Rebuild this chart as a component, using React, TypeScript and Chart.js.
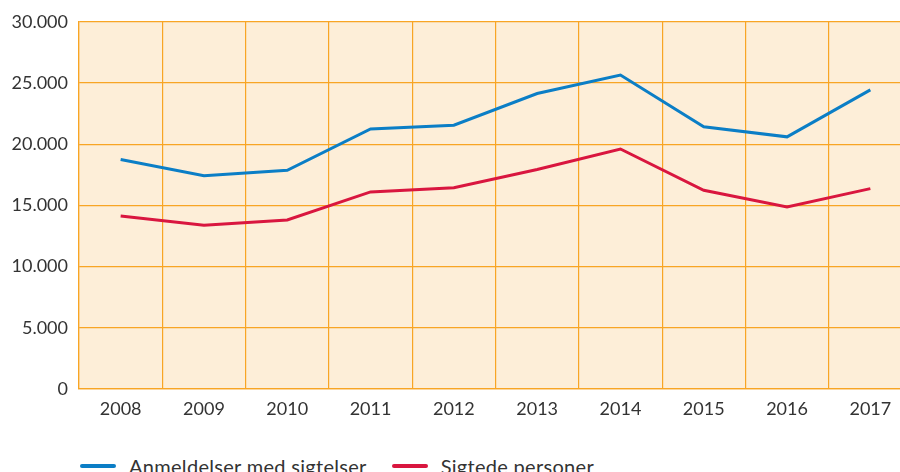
import React, { useEffect, useRef } from "react";
import { Chart, registerables } from "chart.js";

Chart.register(...registerables);

const years = ["2008", "2009", "2010", "2011", "2012", "2013", "2014", "2015", "2016", "2017"];
const anmeldelser = [18750, 17430, 17870, 21250, 21550, 24140, 25650, 21420, 20600, 24440];
const sigtede = [14140, 13380, 13810, 16100, 16450, 17930, 19610, 16230, 14880, 16370];
const seriesNames = ["Anmeldelser med sigtelser", "Sigtede personer"];
const seriesColors = ["#0b7ec6", "#d9163f"];

const FONT = "Lato, 'Open Sans', sans-serif";

const fmt = (v: number) => String(v).replace(/\B(?=(\d{3})+(?!\d))/g, ".");

const bgPlugin = {
  id: "plotBg",
  beforeDraw(chart: any) {
    const { ctx, chartArea } = chart;
    if (!chartArea) return;
    ctx.save();
    ctx.fillStyle = "#fdeed8";
    ctx.fillRect(chartArea.left, chartArea.top, chartArea.right - chartArea.left, chartArea.bottom - chartArea.top);
    ctx.restore();
  },
};

export default function App() {
  const ref = useRef<HTMLCanvasElement | null>(null);
  useEffect(() => {
    if (!ref.current) return;
    const chart = new Chart(ref.current, {
      type: "line",
      data: {
        labels: years,
        datasets: [
          {
            label: seriesNames[0],
            data: anmeldelser,
            borderColor: seriesColors[0],
            backgroundColor: seriesColors[0],
            borderWidth: 3,
            pointRadius: 0,
            tension: 0,
          },
          {
            label: seriesNames[1],
            data: sigtede,
            borderColor: seriesColors[1],
            backgroundColor: seriesColors[1],
            borderWidth: 3,
            pointRadius: 0,
            tension: 0,
          },
        ],
      },
      options: {
        animation: false,
        responsive: false,
        maintainAspectRatio: false,
        layout: { padding: { top: 16, right: 0, left: 0, bottom: 0 } },
        plugins: { legend: { display: false }, tooltip: { enabled: false } },
        scales: {
          x: {
            offset: true,
            grid: { color: "#f8a524", lineWidth: 1.2, drawTicks: false, offset: true },
            border: { color: "#f8a524", width: 1.2 },
            ticks: { color: "#333", font: { family: FONT, size: 18 }, padding: 9, maxRotation: 0 },
            afterFit: (s: any) => {
              s.height = 41;
            },
          },
          y: {
            min: 0,
            max: 30000,
            grid: { color: "#f8a524", lineWidth: 1.2, drawTicks: false },
            border: { color: "#f8a524", width: 1.2 },
            ticks: {
              stepSize: 5000,
              color: "#333",
              font: { family: FONT, size: 18 },
              padding: 11,
              callback: (v: any) => fmt(Number(v)),
            },
            afterFit: (s: any) => {
              s.width = 79;
            },
          },
        },
      },
      plugins: [bgPlugin],
    });
    return () => chart.destroy();
  }, []);

  const legendItem = (i: number) => (
    <div style={{ display: "flex", alignItems: "center", marginRight: 25 }}>
      <div style={{ width: 36, height: 4, borderRadius: 2, background: seriesColors[i], marginRight: 13 }} />
      <span>{seriesNames[i]}</span>
    </div>
  );

  return (
    <div style={{ position: "fixed", left: 0, top: 0, width: 900, height: 472, overflow: "hidden", background: "#fff" }}>
      <canvas ref={ref} width={912} height={430} style={{ position: "absolute", left: 0, top: 0, width: 912, height: 430 }} />
      <div
        style={{
          position: "absolute",
          left: 80,
          top: 454,
          display: "flex",
          fontFamily: FONT,
          fontSize: 20,
          letterSpacing: "0.3px",
          color: "#333",
          lineHeight: "24px",
          whiteSpace: "nowrap",
        }}
      >
        {legendItem(0)}
        {legendItem(1)}
      </div>
    </div>
  );
}
